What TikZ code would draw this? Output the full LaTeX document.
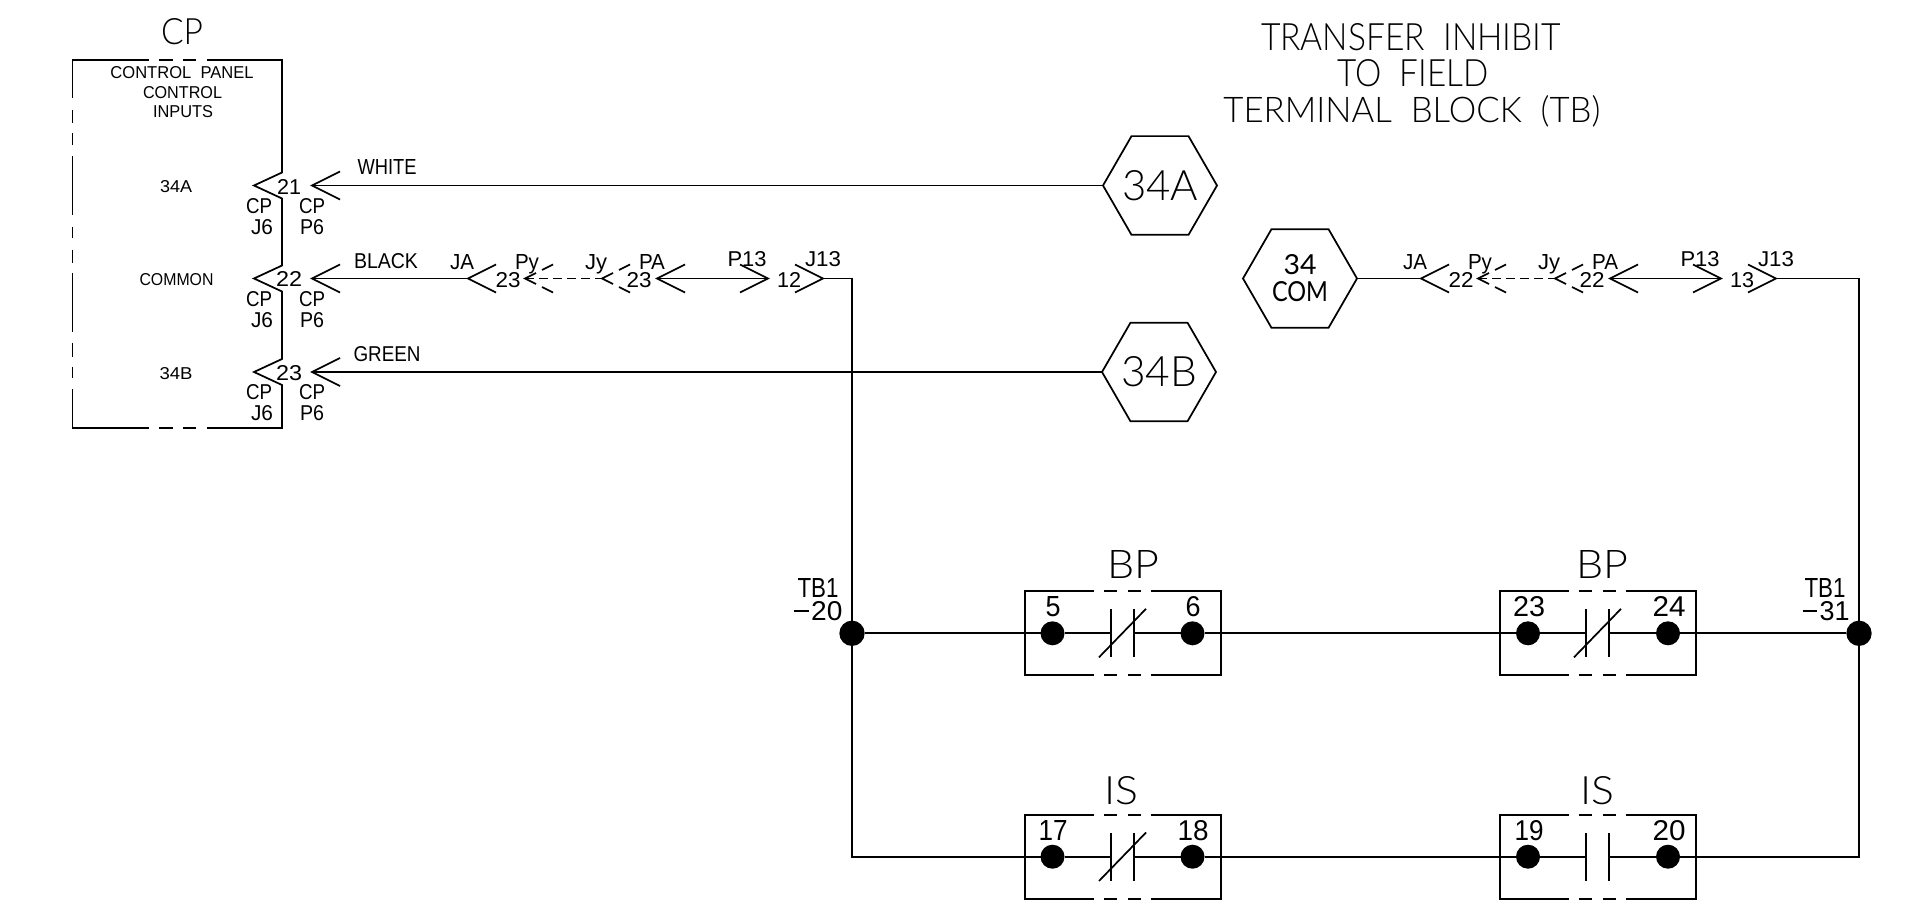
\documentclass[tikz,border=0pt]{standalone}
\usepackage{fontspec}
\usepackage{graphicx}
\usetikzlibrary{shapes.geometric}
\setmainfont{Liberation Sans}
\newfontfamily\thinfont{Lato Light}
\newfontfamily\midfont{Lato}
\tikzset{
  wire/.style={line width=1.3pt,line cap=butt,line join=miter},
  dashwire/.style={wire,dash pattern=on 7pt off 3.5pt},
  hexnode/.style={draw,line width=1.3pt,regular polygon,regular polygon sides=6,minimum size=85.5pt,inner sep=0pt,outer sep=0pt},
  dotnode/.style={circle,fill=black,draw=none,minimum size=18pt,inner sep=0pt,outer sep=0pt},
  bigdot/.style={circle,fill=black,draw=none,minimum size=19pt,inner sep=0pt,outer sep=0pt},
  txt/.style={anchor=base,inner sep=0pt,outer sep=0pt}
}
% name, x, y (cap centre), width, cap height, text
\newcommand{\lblA}[6]{\node[txt] (#1) at (#2,#3+#5/2) {\resizebox{\dimexpr #4pt*3/4\relax}{\dimexpr #5pt*3/4\relax}{#6}};}
\newcommand{\lblT}[6]{\node[txt] (#1) at (#2,#3+#5/2) {\resizebox{\dimexpr #4pt*3/4\relax}{\dimexpr #5pt*3/4\relax}{\thinfont #6}};}
\newcommand{\lblM}[6]{\node[txt] (#1) at (#2,#3+#5/2) {\resizebox{\dimexpr #4pt*3/4\relax}{\dimexpr #5pt*3/4\relax}{\midfont #6}};}
\newcommand{\chevL}[1]{\draw[wire] ([shift={(28,-14)}]#1) -- (#1) -- ([shift={(28,14)}]#1);}
\newcommand{\chevR}[1]{\draw[wire] ([shift={(-28,-14)}]#1) -- (#1) -- ([shift={(-28,14)}]#1);}
\newcommand{\chevD}[1]{\draw[wire] ([shift={(28,-14)}]#1) -- ([shift={(17,-8.5)}]#1) ([shift={(11,-5.5)}]#1) -- (#1) -- ([shift={(11,5.5)}]#1) ([shift={(17,8.5)}]#1) -- ([shift={(28,14)}]#1);}
\newcommand{\cbox}[2]{%
  \draw[wire] (#1+69,#2) -- (#1,#2) -- (#1,#2+84) -- (#1+69,#2+84);
  \draw[wire] (#1+126,#2) -- (#1+196,#2) -- (#1+196,#2+84) -- (#1+126,#2+84);
  \draw[wire] (#1+79,#2) -- (#1+92,#2) (#1+103,#2) -- (#1+116,#2);
  \draw[wire] (#1+79,#2+84) -- (#1+92,#2+84) (#1+103,#2+84) -- (#1+116,#2+84);
}
\newcommand{\plates}[2]{\draw[wire] (#1,#2-24) -- (#1,#2+24) (#1+23,#2-24) -- (#1+23,#2+24);}
\newcommand{\cslash}[2]{\draw[wire] (#1-12,#2+24) -- (#1+35,#2-24.5);}
\begin{document}
\begin{tikzpicture}[x=0.75pt,y=-0.75pt]
\useasboundingbox (0,0) rectangle (1905,905);
% Control panel box
\draw[wire] (149,60) -- (72.5,60) -- (72.5,98);
\draw[wire] (159,60) -- (173,60) (183,60) -- (196,60);
\draw[wire] (207,60) -- (282,60) -- (282,172.5) -- (254,185.5) -- (282,198.5) -- (282,265.5) -- (254,278.5) -- (282,291.5) -- (282,359) -- (254,372) -- (282,385) -- (282,428) -- (207,428);
\draw[wire] (196,428) -- (183,428) (173,428) -- (159,428);
\draw[wire] (149,428) -- (72.5,428) -- (72.5,389);
\draw[wire] (72.5,110) -- (72.5,123) (72.5,133) -- (72.5,145) (72.5,156) -- (72.5,215) (72.5,227) -- (72.5,238) (72.5,250) -- (72.5,263) (72.5,273) -- (72.5,332) (72.5,343) -- (72.5,357) (72.5,367) -- (72.5,378);
% coordinates
\coordinate (p21) at (312,185.5);
\coordinate (p22) at (312,278.5);
\coordinate (p23) at (312,372);
\node[hexnode] (h34a) at (1160,185.5) {};
\node[hexnode] (h34b) at (1159,372) {};
\node[hexnode] (hcom) at (1300,278.5) {};
\coordinate (ja1) at (468,278.5);
\coordinate (py1) at (525,278.5);
\coordinate (jy1) at (602,278.5);
\coordinate (pa1) at (657,278.5);
\coordinate (pt1) at (768,278.5);
\coordinate (jt1) at (823,278.5);
\coordinate (ja2) at (1421,278.5);
\coordinate (py2) at (1478,278.5);
\coordinate (jy2) at (1555,278.5);
\coordinate (pa2) at (1610,278.5);
\coordinate (pt2) at (1721,278.5);
\coordinate (jt2) at (1776,278.5);
\node[bigdot] (tb20) at (852,633.3) {};
\node[bigdot] (tb31) at (1859,633.3) {};
\node[dotnode] (d5) at (1052.5,633.3) {};
\node[dotnode] (d6) at (1192.5,633.3) {};
\node[dotnode] (d23) at (1528,633.3) {};
\node[dotnode] (d24) at (1668,633.3) {};
\node[dotnode] (d17) at (1052.5,856.7) {};
\node[dotnode] (d18) at (1192.5,856.7) {};
\node[dotnode] (d19) at (1528,856.7) {};
\node[dotnode] (d20) at (1668,856.7) {};
\coordinate (c1a) at (1111,633.3); \coordinate (c1b) at (1134,633.3);
\coordinate (c2a) at (1586,633.3); \coordinate (c2b) at (1609,633.3);
\coordinate (c3a) at (1111,856.7); \coordinate (c3b) at (1134,856.7);
\coordinate (c4a) at (1586,856.7); \coordinate (c4b) at (1609,856.7);
% chevrons
\chevL{p21}\chevL{p22}\chevL{p23}
\chevL{ja1}\chevD{py1}\chevD{jy1}\chevL{pa1}\chevR{pt1}\chevR{jt1}
\chevL{ja2}\chevD{py2}\chevD{jy2}\chevL{pa2}\chevR{pt2}\chevR{jt2}
% wires
\draw[wire] (p21) -- (h34a.west);
\draw[wire] (p23) -- (h34b.west);
\draw[wire] (p22) -- (ja1);
\draw[dashwire] (py1) -- (jy1);
\draw[dashwire] (py2) -- (jy2);
\draw[wire] (pa1) -- (pt1);
\draw[wire] (pa2) -- (pt2);
\draw[wire] (hcom.east) -- (ja2);
\draw[wire] (jt1) -| (tb20);
\draw[wire] (jt2) -| (tb31);
\draw[wire] (tb20) |- (d17);
\draw[wire] (tb31) |- (d20);
\draw[wire] (tb20) -- (d5) (d5) -- (c1a) (c1b) -- (d6) (d6) -- (d23) (d23) -- (c2a) (c2b) -- (d24) (d24) -- (tb31);
\draw[wire] (d17) -- (c3a) (c3b) -- (d18) (d18) -- (d19) (d19) -- (c4a) (c4b) -- (d20);
% boxes and contacts
\cbox{1025}{591}\cbox{1500}{591}\cbox{1025}{815}\cbox{1500}{815}
\plates{1111}{633.3}\plates{1586}{633.3}\plates{1111}{857}\plates{1586}{857}
\cslash{1111}{633.3}\cslash{1586}{633.3}\cslash{1111}{857}
% texts
\lblT{tcp}{182}{32}{42}{26}{CP}
\lblA{tpanel}{182}{73}{143}{12}{CONTROL\ \ PANEL}
\lblA{tcontrol}{182.5}{93}{79}{12}{CONTROL}
\lblA{tinputs}{183}{112}{60}{12}{INPUTS}
\lblA{t34a}{176}{187}{32}{12}{34A}
\lblA{tcommon}{176.5}{280}{74}{12}{COMMON}
\lblA{t34b}{176}{373.5}{33}{12}{34B}
\lblA{n21}{289}{187}{24}{15}{21}
\lblA{n22}{289}{279.5}{26}{15}{22}
\lblA{n23}{289}{372.5}{26}{15}{23}
\lblA{c1}{259}{206}{26}{15}{CP}\lblA{c2}{312}{206}{26}{15}{CP}
\lblA{j1}{262}{227}{22}{15}{J6}\lblA{p1}{312}{227}{24}{15}{P6}
\lblA{c3}{259}{299}{26}{15}{CP}\lblA{c4}{312}{299}{26}{15}{CP}
\lblA{j2}{262}{320.5}{22}{15}{J6}\lblA{p2}{312}{320.5}{24}{15}{P6}
\lblA{c5}{259}{392}{26}{15}{CP}\lblA{c6}{312}{392}{26}{15}{CP}
\lblA{j3}{262}{413}{22}{15}{J6}\lblA{p3}{312}{413}{24}{15}{P6}
\lblA{twhite}{387}{167}{59}{15}{WHITE}
\lblA{tblack}{386}{261}{64}{15}{BLACK}
\lblA{tgreen}{387}{354}{67}{15}{GREEN}
% left connector labels
\lblA{a1}{462}{262}{24}{15}{JA}
\lblA{a2}{508}{280}{25}{15}{23}
\lblA{a3}{527}{262}{24}{15}{Py}
\lblA{a4}{596}{262}{22}{15}{Jy}
\lblA{a5}{639}{280}{25}{15}{23}
\lblA{a6}{652}{262}{26}{15}{PA}
\lblA{a7}{747}{259}{39}{15}{P13}
\lblA{a8}{789}{280}{24}{15}{12}
\lblA{a9}{823}{259}{36}{15}{J13}
% right connector labels
\lblA{b1}{1415}{262}{24}{15}{JA}
\lblA{b2}{1461}{280}{25}{15}{22}
\lblA{b3}{1480}{262}{24}{15}{Py}
\lblA{b4}{1549}{262}{22}{15}{Jy}
\lblA{b5}{1592}{280}{25}{15}{22}
\lblA{b6}{1605}{262}{26}{15}{PA}
\lblA{b7}{1700}{259}{39}{15}{P13}
\lblA{b8}{1742}{280}{24}{15}{13}
\lblA{b9}{1776}{259}{36}{15}{J13}
% hex labels
\lblT{t34ah}{1160}{186}{76}{30}{34A}
\lblT{t34bh}{1159}{372}{76}{30}{34B}
\lblM{t34}{1300}{265}{33}{20}{34}
\lblM{tcom}{1300}{292}{56}{20}{COM}
% title
\lblT{title1}{1411}{37.5}{300}{27}{TRANSFER\ \ INHIBIT}
\lblT{title2}{1413}{73}{151}{27}{TO\ \ FIELD}
\lblT{title3}{1412}{109}{377}{27}{TERMINAL\ \ BLOCK\ \ (TB)}
% contact names
\lblT{bp1}{1133}{564}{52}{28}{BP}
\lblT{bp2}{1602}{564}{52}{28}{BP}
\lblT{is1}{1121}{790}{34}{28}{IS}
\lblT{is2}{1597}{790}{34}{28}{IS}
\lblA{n5}{1053}{606}{15}{20}{5}
\lblA{n6}{1193}{606}{15}{20}{6}
\lblA{n23b}{1529}{606}{32}{20}{23}
\lblA{n24}{1669}{606}{33}{20}{24}
\lblA{n17}{1053}{830}{29}{20}{17}
\lblA{n18}{1193}{830}{31}{20}{18}
\lblA{n19}{1529}{830}{29}{20}{19}
\lblA{n20}{1669}{830}{33}{20}{20}
\lblA{tb1a}{818}{588}{41}{19}{TB1}
\lblA{tb1b}{818}{611}{49}{19}{\rule[0.33em]{0.55em}{0.07em}\kern0.08em 20}
\lblA{tb1c}{1825}{588}{41}{19}{TB1}
\lblA{tb1d}{1826}{611}{47}{19}{\rule[0.33em]{0.55em}{0.07em}\kern0.08em 31}
\end{tikzpicture}
\end{document}
